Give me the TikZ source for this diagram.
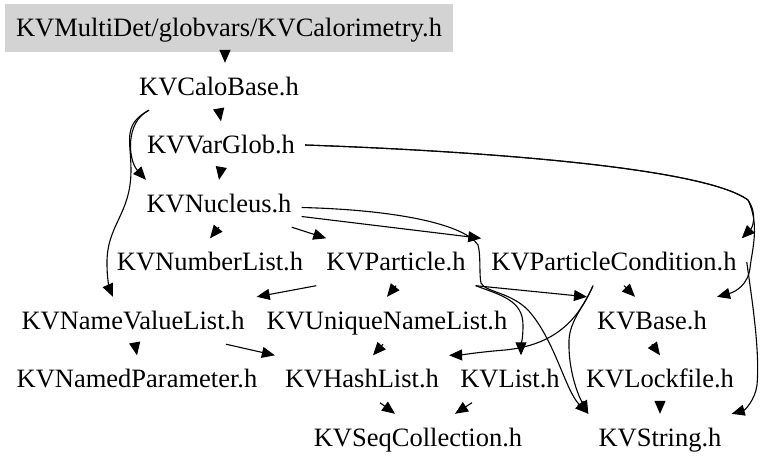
\documentclass[tikz,border=0pt]{standalone}
\usepackage{fontspec}
\setmainfont{Liberation Serif}
\usetikzlibrary{arrows.meta}
\definecolor{rootgray}{RGB}{211,211,211}
\begin{document}
\begin{tikzpicture}[x=1pt,y=-1pt,
  hdr/.style={font=\fontsize{26.5}{30}\selectfont, text height=22pt, text depth=5pt,
              inner xsep=10pt, inner ysep=10pt, anchor=base},
  arr/.style={line width=1.1pt, -{Triangle[length=13pt,width=11pt]}}]
\useasboundingbox (0,0) rectangle (763,469);
% nodes
\node[hdr, fill=rootgray, minimum width=448pt, minimum height=48pt] (root) at (229,36.5) {KVMultiDet/globvars/KVCalorimetry.h};
\node[hdr] (calo) at (219,95) {KVCaloBase.h};
\node[hdr] (vglob) at (221,153.5) {KVVarGlob.h};
\node[hdr] (nucleus) at (219,212) {KVNucleus.h};
\node[hdr] (numlist) at (210,270.5) {KVNumberList.h};
\node[hdr] (particle) at (396,270.5) {KVParticle.h};
\node[hdr] (pcond) at (614,270.5) {KVParticleCondition.h};
\node[hdr] (namevalue) at (133,329) {KVNameValueList.h};
\node[hdr] (unique) at (387,329) {KVUniqueNameList.h};
\node[hdr] (base) at (652,329) {KVBase.h};
\node[hdr] (namedpar) at (137,387.5) {KVNamedParameter.h};
\node[hdr] (hash) at (362,387.5) {KVHashList.h};
\node[hdr] (list) at (510,387.5) {KVList.h};
\node[hdr] (lock) at (660,387.5) {KVLockfile.h};
\node[hdr] (seq) at (418,446) {KVSeqCollection.h};
\node[hdr] (string) at (660,446) {KVString.h};
% edges
\draw[arr] ([xshift=-4pt]root.south) -- ([xshift=6pt]calo.north);
\draw[arr] (calo.south) -- (vglob.north);
\draw[arr] (vglob.south) -- (nucleus.north);
\draw[arr] ([xshift=-70pt]calo.south) .. controls (125,122) and (128,160) .. ([xshift=-73pt]nucleus.north);
\draw[arr] ([xshift=-70pt]calo.south) .. controls (122,125) and (131,140) .. (131,170)
   .. controls (131,215) and (106,225) .. (107,265)
   .. controls (107,280) and (110,290) .. ([xshift=-20pt]namevalue.north);
\draw[arr] (vglob.east) .. controls (450,150) and (700,165) .. (748,200)
   .. controls (758,215) and (752,228) .. ([xshift=-5pt]pcond.north east);
\draw[arr] (vglob.east) .. controls (450,150) and (700,165) .. (748,200)
   .. controls (760,225) and (752,250) .. (750,268)
   .. controls (748,285) and (735,292) .. (base.north east);
\draw[arr] (pcond.east) .. controls (752,300) and (760,350) .. (757,385)
   .. controls (755,400) and (745,410) .. (string.north east);
\draw[arr] (nucleus.south) -- (numlist.north);
\draw[arr] ([xshift=-10pt]nucleus.south east) -- ([xshift=10pt]particle.north west);
\draw[arr] ([yshift=-13pt]nucleus.east) -- (pcond.north west);
\draw[arr] ([yshift=-4pt]nucleus.east) .. controls (400,210) and (465,225) .. (478,245)
   .. controls (481,255) and (479,275) .. (481,283)
   .. controls (485,292) and (510,292) .. (528,310)
   .. controls (555,340) and (565,390) .. (string.north west);
\draw[arr] (particle.south west) -- ([xshift=2pt]namevalue.north east);
\draw[arr] (particle.south) -- (unique.north);
\draw[arr] (particle.south east) -- (base.north west);
\draw[arr] (particle.south east) .. controls (500,295) and (523,300) .. (523,325)
   .. controls (523,340) and (521,345) .. ([xshift=11pt]list.north);
\draw[arr] ([xshift=-21pt]pcond.south) .. controls (578,320) and (555,345) .. (505,350)
   .. controls (480,352) and (460,355) .. (hash.north east);
\draw[arr] ([xshift=-21pt]pcond.south) .. controls (585,305) and (570,320) .. (569,340)
   .. controls (568,370) and (578,395) .. (string.north west);
\draw[arr] ([xshift=10pt]pcond.south) -- ([xshift=-17pt]base.north);
\draw[arr] ([xshift=2pt]namevalue.south) -- (namedpar.north);
\draw[arr] ([xshift=93pt]namevalue.south) -- (hash.north west);
\draw[arr] ([xshift=-4pt]unique.south) -- ([xshift=11pt]hash.north);
\draw[arr] (base.south) -- (lock.north);
\draw[arr] ([xshift=18pt]hash.south) -- ([xshift=-23pt]seq.north);
\draw[arr] ([xshift=-38pt]list.south) -- ([xshift=37pt]seq.north);
\draw[arr] (lock.south) -- (string.north);
\end{tikzpicture}
\end{document}
